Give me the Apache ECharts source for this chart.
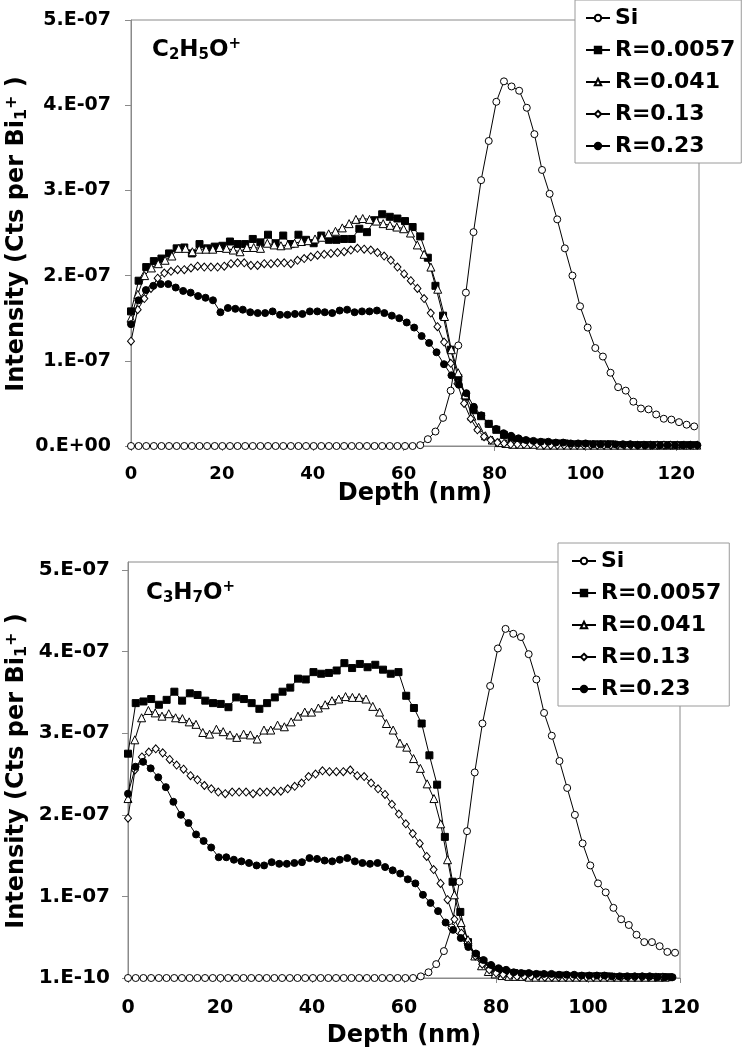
<!DOCTYPE html>
<html><head><meta charset="utf-8">
<script src="https://cdn.jsdelivr.net/npm/echarts@6/dist/echarts.min.js"></script>
<style>html,body{margin:0;padding:0;background:#fff}#c{width:748px;height:1048px}</style>
</head><body><div id="c"></div>
<script>
const seriesNames = ['Si', 'R=0.0057', 'R=0.041', 'R=0.13', 'R=0.23'];
const xTicks = [0, 20, 40, 60, 80, 100, 120];
const yTicks = [0, 1, 2, 3, 4, 5];
const yTickLabelsTop = ['0.E+00', '1.E-07', '2.E-07', '3.E-07', '4.E-07', '5.E-07'];
const yTickLabelsBottom = ['1.E-10', '1.E-07', '2.E-07', '3.E-07', '4.E-07', '5.E-07'];
// depth spacing (nm) between successive measurements of each profile
const depthStepTop = [1.675, 1.675, 1.5, 1.466, 1.64];
const depthStepBottom = [1.675, 1.68, 1.478, 1.51, 1.644];

// intensities, in units of 1e-7 counts per Bi1+  (top panel: C2H5O+)
const siTop = [0,0,0,0,0,0,0,0,0,0, 0,0,0,0,0,0,0,0,0,0, 0,0,0,0,0,0,0,0,0,0, 0,0,0,0,0,0,0,0,
  0.01,0.08,0.17,0.33,0.65,1.18,1.80,2.51,3.12,3.58,4.04,4.28,4.22,4.17,3.97,3.66,3.24,2.96,2.66,2.32,
  2.00,1.64,1.39,1.15,1.05,0.86,0.69,0.65,0.52,0.44,0.43,0.37,0.32,0.31,0.28,0.25,0.23];
const r0057Top = [1.58,1.94,2.10,2.17,2.20,2.26,2.32,2.33,2.26,2.37, 2.32,2.34,2.35,2.40,2.37,2.37,2.43,2.39,2.48,2.38,
  2.47,2.37,2.48,2.42,2.38,2.47,2.42,2.42,2.43,2.43, 2.55,2.51,2.65,2.72,2.69,2.67,2.64,2.57,2.46,2.21,
  1.88,1.53,1.13,0.80,0.58,0.42,0.35,0.26,0.19,0.13, 0.09,0.06,0.05,0.04,0.04,0.03,0.03,0.03,0.02,0.02,
  0.02,0.02,0.02,0.02,0.01,0.01,0.01,0.01,0.01,0.01, 0.01,0.01,0.01,0.01,0.01];
const r041Top = [1.50,1.78,2.00,2.09,2.14,2.18,2.23,2.32,2.32,2.28, 2.31,2.31,2.31,2.33,2.32,2.30,2.28,2.33,2.33,2.32,
  2.38,2.36,2.35,2.36,2.38,2.40,2.41,2.43,2.45,2.49, 2.52,2.56,2.61,2.66,2.67,2.66,2.64,2.61,2.59,2.57,
  2.55,2.50,2.36,2.25,2.10,1.84,1.52,1.13,0.86,0.60, 0.35,0.22,0.12,0.07,0.04,0.03,0.02,0.02,0.02,0.02,
  0.01,0.01,0.01,0.01,0.01,0.01,0.01,0.01,0.01,0.01, 0.01,0.01,0.01,0.01,0.01,0.01,0.01,0.01,0.01,0.01,
  0.01,0.01,0.01,0.01];
const r013Top = [1.23,1.60,1.73,1.85,1.97,2.03,2.05,2.07,2.07,2.09, 2.11,2.10,2.10,2.10,2.11,2.14,2.15,2.15,2.12,2.12,
  2.14,2.14,2.15,2.15,2.14,2.18,2.20,2.22,2.24,2.25, 2.26,2.27,2.28,2.30,2.32,2.31,2.30,2.27,2.23,2.18,
  2.10,2.02,1.94,1.85,1.73,1.56,1.40,1.22,0.97,0.73, 0.50,0.32,0.19,0.11,0.07,0.04,0.03,0.02,0.02,0.02,
  0.02,0.02,0.01,0.01,0.01,0.01,0.01,0.01,0.01,0.01, 0.01,0.01,0.01,0.01,0.01,0.01,0.01,0.01,0.01,0.01,
  0.01,0.01,0.01,0.01,0.01,0.01];
const r023Top = [1.43,1.71,1.83,1.88,1.90,1.90,1.86,1.82,1.80,1.76, 1.74,1.71,1.57,1.62,1.61,1.60,1.57,1.56,1.56,1.58,
  1.54,1.54,1.55,1.55,1.58,1.58,1.57,1.56,1.59,1.60, 1.57,1.58,1.58,1.59,1.56,1.53,1.50,1.45,1.39,1.29,
  1.21,1.10,0.96,0.83,0.72,0.62,0.46,0.36,0.26,0.20, 0.15,0.12,0.09,0.07,0.06,0.05,0.05,0.04,0.04,0.03,
  0.03,0.03,0.02,0.02,0.02,0.02,0.02,0.02,0.01,0.01, 0.01,0.01,0.01,0.01,0.01,0.01,0.01];

// bottom panel: C3H7O+
const siBottom = [0,0,0,0,0,0,0,0,0,0, 0,0,0,0,0,0,0,0,0,0, 0,0,0,0,0,0,0,0,0,0, 0,0,0,0,0,0,0,0,
  0.02,0.07,0.17,0.33,0.62,1.18,1.80,2.52,3.12,3.58,4.04,4.28,4.22,4.18,3.97,3.66,3.25,2.97,2.66,2.33,
  2.00,1.65,1.38,1.16,1.05,0.86,0.72,0.65,0.53,0.44,0.44,0.39,0.32,0.31];
const r0057Bottom = [2.75,3.37,3.39,3.42,3.35,3.41,3.51,3.40,3.49,3.47, 3.40,3.37,3.36,3.32,3.44,3.42,3.37,3.30,3.37,3.44,
  3.51,3.56,3.67,3.66,3.75,3.73,3.74,3.77,3.86,3.80, 3.85,3.81,3.84,3.78,3.73,3.75,3.46,3.31,3.12,2.73,
  2.37,1.73,1.18,0.81,0.44,0.28,0.20,0.13,0.09,0.07, 0.06,0.05,0.04,0.04,0.03,0.03,0.03,0.02,0.02,0.02,
  0.02,0.02,0.02,0.01,0.01,0.01,0.01,0.01,0.01,0.01, 0.01];
const r041Bottom = [2.20,2.92,3.19,3.28,3.25,3.21,3.24,3.19,3.18,3.14, 3.11,3.01,2.99,3.05,3.02,2.98,2.95,2.99,2.98,2.93,
  3.04,3.04,3.10,3.08,3.14,3.21,3.26,3.26,3.31,3.35, 3.40,3.42,3.45,3.44,3.44,3.42,3.33,3.26,3.12,3.04,
  2.88,2.83,2.69,2.57,2.38,2.20,1.89,1.45,1.02,0.68, 0.47,0.27,0.15,0.08,0.05,0.03,0.02,0.02,0.02,0.01,
  0.01,0.01,0.01,0.01,0.01,0.01,0.01,0.01,0.01,0.01, 0.01,0.01,0.01,0.01,0.01,0.01,0.01,0.01,0.01,0.01];
const r013Bottom = [1.96,2.55,2.71,2.77,2.81,2.76,2.68,2.61,2.56,2.48, 2.43,2.36,2.32,2.28,2.26,2.28,2.28,2.28,2.26,2.28,
  2.28,2.29,2.29,2.32,2.35,2.39,2.47,2.50,2.54,2.53, 2.53,2.53,2.55,2.48,2.47,2.39,2.32,2.25,2.13,2.01,
  1.89,1.77,1.65,1.49,1.33,1.16,0.96,0.72,0.55,0.40, 0.27,0.17,0.10,0.06,0.04,0.03,0.02,0.02,0.02,0.02,
  0.01,0.01,0.01,0.01,0.01,0.01,0.01,0.01,0.01,0.01, 0.01,0.01,0.01,0.01,0.01,0.01,0.01,0.01];
const r023Bottom = [2.26,2.59,2.65,2.57,2.46,2.34,2.16,2.00,1.90,1.76, 1.68,1.60,1.48,1.48,1.45,1.43,1.41,1.38,1.38,1.42,
  1.40,1.40,1.41,1.42,1.47,1.46,1.44,1.43,1.45,1.47, 1.43,1.41,1.40,1.41,1.36,1.32,1.28,1.21,1.16,1.02,
  0.92,0.82,0.68,0.59,0.49,0.38,0.30,0.22,0.16,0.12, 0.10,0.07,0.06,0.06,0.05,0.05,0.05,0.04,0.04,0.04,
  0.03,0.03,0.03,0.03,0.02,0.02,0.02,0.02,0.02,0.02, 0.01,0.01,0.01];

const topValues = [siTop, r0057Top, r041Top, r013Top, r023Top];
const bottomValues = [siBottom, r0057Bottom, r041Bottom, r013Bottom, r023Bottom];

const FONT = "'DejaVu Sans', Verdana, sans-serif";
const marks = [
  { symbol: 'circle', size: 7, fill: '#ffffff' },
  { symbol: 'rect', size: 7, fill: '#000000' },
  { symbol: 'triangle', size: 8, fill: '#ffffff' },
  { symbol: 'diamond', size: [7, 8], fill: '#ffffff' },
  { symbol: 'circle', size: 7, fill: '#000000' }
];

function makeSeries(values, steps, gi) {
  return values.map((vals, k) => ({
    type: 'line', name: seriesNames[k], xAxisIndex: gi, yAxisIndex: gi,
    data: vals.map((v, i) => [+(i * steps[k]).toFixed(3), v]),
    symbol: marks[k].symbol, symbolSize: marks[k].size,
    showSymbol: true, showAllSymbol: true, clip: false,
    itemStyle: { color: marks[k].fill, borderColor: '#000', borderWidth: 1 },
    lineStyle: { color: '#000', width: 1 },
    emphasis: { disabled: true }, z: 2 + k
  }));
}

function xAxis(gi, max, labelSize, margin) {
  return {
    type: 'value', gridIndex: gi, min: 0, max: max, interval: 20,
    axisLine: { show: true, lineStyle: { color: '#8a8a8a', width: 1 } },
    axisTick: { show: true, length: 5, customValues: xTicks, lineStyle: { color: '#8a8a8a' } },
    axisLabel: { customValues: xTicks, fontSize: labelSize, fontWeight: 'bold', color: '#000', fontFamily: FONT, margin: margin,
      formatter: v => xTicks.includes(v) ? String(v) : '' },
    splitLine: { show: false }
  };
}
function yAxis(gi, max, labels, labelSize, margin) {
  return {
    type: 'value', gridIndex: gi, min: 0, max: max, interval: 1,
    axisLine: { show: true, lineStyle: { color: '#8a8a8a', width: 1 } },
    axisTick: { show: true, length: 6, customValues: yTicks, lineStyle: { color: '#8a8a8a' } },
    axisLabel: { customValues: yTicks, fontSize: labelSize, fontWeight: 'bold', color: '#000', fontFamily: FONT, margin: margin,
      formatter: v => { const j = yTicks.indexOf(v); return j >= 0 ? labels[j] : ''; } },
    splitLine: { show: false }
  };
}
function legend(left, top, pad) {
  return {
    data: seriesNames, orient: 'vertical', left: left, top: top,
    itemWidth: 24, itemHeight: 8, itemGap: 6, padding: pad,
    backgroundColor: '#fff', borderColor: '#9a9a9a', borderWidth: 1, borderRadius: 0,
    selectedMode: false, z: 10,
    textStyle: { fontSize: 22, fontWeight: 'bold', color: '#000', fontFamily: FONT, lineHeight: 26 }
  };
}
function richText(x, y, text, size, rot) {
  const small = Math.round(size * 0.66);
  return {
    type: 'text', x: x, y: y, rotation: rot || 0, z: 20,
    style: {
      text: text, align: rot ? 'center' : 'left', verticalAlign: 'middle', fill: '#000',
      rich: {
        b: { fontSize: size, fontWeight: 'bold', fontFamily: FONT, fill: '#000', lineHeight: 26 },
        sub: { fontSize: small, fontWeight: 'bold', fontFamily: FONT, fill: '#000', lineHeight: 14, verticalAlign: 'bottom' },
        sup: { fontSize: small, fontWeight: 'bold', fontFamily: FONT, fill: '#000', lineHeight: 8, verticalAlign: 'top' }
      }
    }
  };
}
function plainText(x, y, text, size) {
  return { type: 'text', x: x, y: y, z: 20,
    style: { text: text, align: 'center', verticalAlign: 'middle', fill: '#000',
      fontSize: size, fontWeight: 'bold', fontFamily: FONT } };
}

const chart = echarts.init(document.getElementById('c'), null, { renderer: 'canvas' });
chart.setOption({
  animation: false,
  backgroundColor: '#fff',
  grid: [
    { left: 131, top: 20, width: 568, height: 426, show: true, borderColor: '#8a8a8a', borderWidth: 1 },
    { left: 128, top: 562, width: 552, height: 416, show: true, borderColor: '#8a8a8a', borderWidth: 1 }
  ],
  xAxis: [xAxis(0, 125, 18, 19), xAxis(1, 120, 19, 21)],
  yAxis: [yAxis(0, 5, yTickLabelsTop, 19, 20), yAxis(1, 5.1, yTickLabelsBottom, 20, 18)],
  legend: [legend(575, 0, [5, 6, 4, 10]), legend(558, 543, [5, 8, 4, 13])],
  series: makeSeries(topValues, depthStepTop, 0).concat(makeSeries(bottomValues, depthStepBottom, 1)),
  graphic: [
    richText(152, 50, '{b|C}{sub|2}{b|H}{sub|5}{b|O}{sup|+}', 23),
    richText(146, 593, '{b|C}{sub|3}{b|H}{sub|7}{b|O}{sup|+}', 23),
    richText(17, 234, '{b|Intensity (Cts per Bi}{sub|1}{sup|+}{b| )}', 24, Math.PI / 2),
    richText(17, 771, '{b|Intensity (Cts per Bi}{sub|1}{sup|+}{b| )}', 24, Math.PI / 2),
    plainText(415, 494, 'Depth (nm)', 24),
    plainText(404, 1036, 'Depth (nm)', 24)
  ]
});
</script>
</body></html>
